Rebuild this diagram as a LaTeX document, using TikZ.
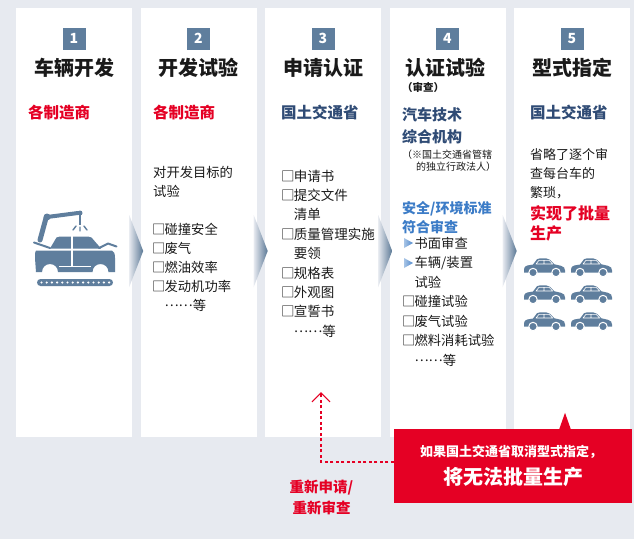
\documentclass[tikz,border=0pt]{standalone}
\usepackage{fontspec}
\setmainfont{Noto Sans CJK SC}
\usetikzlibrary{arrows.meta,calc}

\definecolor{bggray}{HTML}{E7EAF0}
\definecolor{slate}{HTML}{5F7E9D}
\definecolor{navy}{HTML}{2F4B75}
\definecolor{skyblue}{HTML}{3C7CC7}
\definecolor{alert}{HTML}{E50024}
\definecolor{ink}{HTML}{1A1A1A}

\newcommand{\setfs}[2]{\fontsize{#1}{#2}\selectfont}
\newcommand{\middots}{\raisebox{.3em}{……}}
% check box set in a narrower slot than the full-width glyph
\newcommand{\cbox}{\makebox[0.86em][l]{\hspace{-0.08em}□}}

\tikzset{
  sedan/.pic={
    \fill[slate] (0,12) .. controls (0,8.5) and (2,7.5) .. (6,7) -- (9,6.5)
      -- (13,1.2) .. controls (14,0.3) .. (16,0.3) -- (22,0.3)
      .. controls (24,0.3) .. (26,1.8) -- (30.5,6.3) -- (37,7.8)
      .. controls (40,8.6) and (41,10) .. (41,12.5) -- (41,14.5) -- (0,14.5) -- cycle;
    \draw[white, line width=0.6pt, line join=round]
      (12,6) -- (15,2.3) -- (25,2.3) -- (28.8,6) -- cycle
      (20,2.3) -- (20,6);
    \filldraw[fill=slate, draw=white, line width=1pt] (9,14.5) circle (4.2) (32,14.5) circle (4.2);
  }
}

\begin{document}
\begin{tikzpicture}[x=1pt,y=-1pt,
  panel/.style={fill=white, minimum width=116pt, minimum height=429pt, inner sep=0pt},
  badge/.style={fill=slate, text=white, minimum width=23pt, minimum height=22pt,
    inner sep=0pt, font=\bfseries\setfs{14}{14}},
  steptitle/.style={inner sep=0pt, text=ink, font=\bfseries\setfs{20}{24}},
  maker/.style={anchor=west, inner sep=0pt, text=alert, font=\bfseries\setfs{15.5}{18}},
  agency/.style={anchor=west, inner sep=0pt, text=navy, font=\bfseries\setfs{15.5}{18}},
  body/.style={anchor=west, inner sep=0pt, align=left, text=ink},
  chevron/.style={left color=bggray, right color=slate!95!black},
  warnbox/.style={fill=alert, minimum width=238pt, minimum height=74pt, inner sep=0pt},
  warntext/.style={inner sep=0pt, text=white},
]
\useasboundingbox (0,0) rectangle (634,539);
\fill[bggray] (0,0) rectangle (634,539);

% the five step panels
\foreach \i in {1,...,5}
  \node[panel] (p\i) at ({74+124.5*(\i-1)},222.5) {};

% chevrons between the steps
\foreach \i in {1,...,4}
  \shade[chevron] ($(p\i.east)+(-3,-7.5)$) -- ($(p\i.east)+(-3,64.5)$)
    -- ($(p\i.east)+(11,28.5)$) -- cycle;

% step numbers and titles
\foreach \i in {1,...,5}
  \node[badge] (b\i) at ($(p\i.north)+(0,31)$) {\i};
\foreach \i/\t in {1/车辆开发,2/开发试验,3/申请认证,5/型式指定}
  \node[steptitle] (t\i) at ($(p\i.north)+(0,60)$) {\t};
\node[steptitle] (t4) at ($(p4.north)+(-2.5,60)$) {认证试验};
\node[anchor=west, inner sep=0pt, text=ink, font=\bfseries\setfs{10.5}{12}] (t4sub) at (402,87) {（审查）};

% responsible parties
\node[maker] (m1) at (28,113) {各制造商};
\node[maker] (m2) at (153,113) {各制造商};
\node[agency] (m3) at (281,113) {国土交通省};
\node[agency] (m5) at (530,113) {国土交通省};
\node[body, text=navy, font=\bfseries\setfs{15}{22}] (m4) at (402,126) {汽车技术\\综合机构};
\node[body, font=\setfs{10}{12}] (m4note) at (402,161) {（※国土交通省管辖\\\hspace{1.4em}的独立行政法人）};

% step 1: assembly line icon
\fill[slate, rounded corners=3.5pt] (37,279) rectangle (113,286);
\foreach \k in {0,...,13}
  \fill[white] ({41.5+\k*5.2},282.5) circle (1.2);
\fill[slate] (36,250.5) -- (112,250.5) .. controls (114,251) and (115,254) .. (115,258)
  -- (115,272) -- (108.5,272)
  arc[start angle=0, end angle=-180, radius=8] -- (58,272)
  arc[start angle=0, end angle=-180, radius=8] -- (36,272) -- (35,258)
  .. controls (35,254) and (35,251) .. (36,250.5) -- cycle;
\draw[white, line width=1.5pt] (59,266.5) -- (91,266.5);
\fill[slate] (50,248.5) -- (56.5,237.5) .. controls (57.5,236.5) .. (60,236.5) -- (88,236.5)
  .. controls (90,236.5) .. (91.5,237.5) -- (101,248.5) -- cycle;
\draw[white, line width=1.5pt] (72,235) -- (72,266);
\draw[slate, line width=2pt, line cap=round] (34,242.5) -- (50,248);
\draw[slate, line width=2pt, line cap=round, line join=round] (99,248) -- (108,243.5) -- (116.5,246.5);
\draw[slate, line width=5pt, line cap=round] (40,240) -- (46,218);
\draw[slate, line width=4pt, line cap=round] (47,217) -- (78,213);
\fill[slate] (47,217) circle (3.5);
\fill[slate] (80,213) circle (2.5);
\draw[slate, line width=1.5pt] (80,213) -- (80,225);
\draw[slate, line width=1.4pt, line cap=round] (76,226) -- (73,230) (80,227) -- (80,231) (84,226) -- (87,230);

% step 2
\node[body, font=\setfs{13.3}{19}] (l2) at (153,238.5)
  {对开发目标的\\试验\\[19pt]\cbox 碰撞安全\\\cbox 废气\\\cbox 燃油效率\\\cbox 发动机功率\\\phantom{\cbox}\middots 等};

% step 3
\node[body, font=\setfs{13.5}{19.375}] (l3) at (282,253.5)
  {\cbox 申请书\\\cbox 提交文件\\\phantom{\cbox}清单\\\cbox 质量管理实施\\\phantom{\cbox}要领\\\cbox 规格表\\\cbox 外观图\\\cbox 宣誓书\\\phantom{\cbox}\middots 等};

% step 4
\node[body, text=skyblue, font=\bfseries\setfs{14}{19}] (h4) at (402,217.5) {安全/环境标准\\符合审查};
\node[body, font=\setfs{13.3}{19.5}] (l4) at (403,301.5)
  {\phantom{\cbox}书面审查\\\phantom{\cbox}车辆/装置\\\phantom{\cbox}试验\\\cbox 碰撞试验\\\cbox 废气试验\\\cbox 燃料消耗试验\\\phantom{\cbox}\middots 等};
\shade[left color=skyblue!45, right color=skyblue!90] (404,238) -- (404,248) -- (413,243) -- cycle;
\shade[left color=skyblue!45, right color=skyblue!90] (404,258) -- (404,268) -- (413,263) -- cycle;

% step 5
\node[body, font=\setfs{13}{19}] (l5) at (530,174) {省略了逐个审\\查每台车的\\繁琐，};
\node[body, text=alert, font=\bfseries\setfs{16}{20}] (r5) at (530,223) {实现了批量\\生产};
\foreach \cx in {524,571}
  \foreach \cy in {258,285,312}
    \pic at (\cx,\cy) {sedan};

% warning box and the way back to the application
\node[warnbox] (warn) at (513,466) {};
\fill[alert] ($(warn.north)+(46,1)$) -- ($(warn.north)+(52,-16)$) -- ($(warn.north)+(58,1)$) -- cycle;
\node[warntext, font=\bfseries\setfs{13}{15}] (warn1) at ($(warn.center)+(-2,-14)$) {如果国土交通省取消型式指定，};
\node[warntext, font=\bfseries\setfs{20}{24}] (warn2) at ($(warn.center)+(0,11)$) {将无法批量生产};

\coordinate (redo) at (321,392);
\draw[alert, line width=1.2pt, dash pattern=on 3pt off 2.5pt,
  -{Straight Barb[length=9pt,width=18pt,line width=1.2pt]}]
  ($(warn.west)+(0,-4)$) -| (redo);
\node[inner sep=0pt, align=center, text=alert, font=\bfseries\setfs{14.5}{21}] (redolabel)
  at (321.5,497.5) {重新申请/\\重新审查};
\end{tikzpicture}
\end{document}
